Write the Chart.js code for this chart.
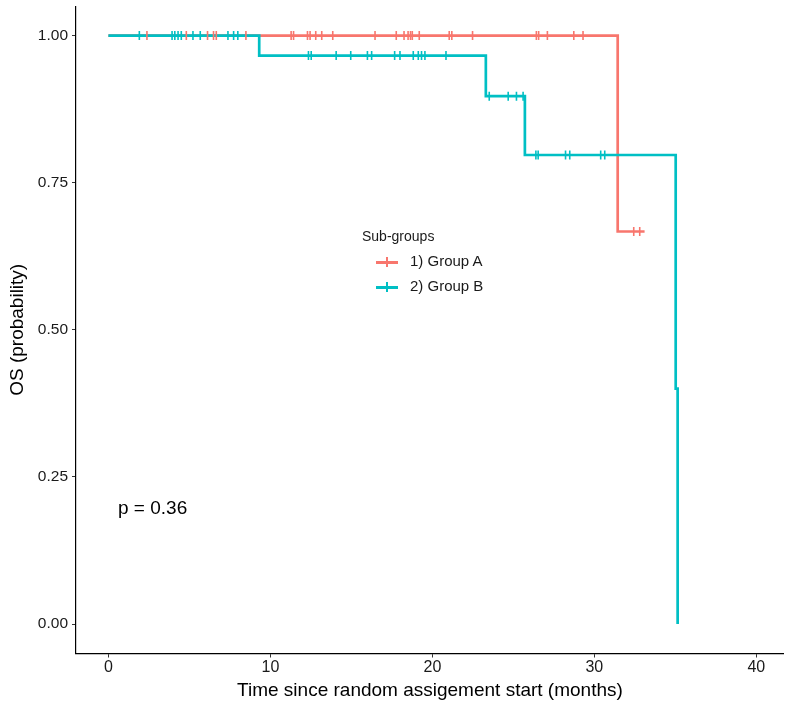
<!DOCTYPE html>
<html>
<head>
<meta charset="utf-8">
<script src="https://cdn.jsdelivr.net/npm/chart.js@4/dist/chart.umd.min.js"></script>
<style>
  html, body { margin: 0; padding: 0; background: #fff; }
  #wrap { position: relative; width: 790px; height: 705px; font-family: "Liberation Sans", Arial, sans-serif; }
  #chart { position: absolute; left: 0; top: 0; }
  .leg-title { position: absolute; left: 362px; top: 228px; font-size: 14px; color: #1a1a1a; }
  .leg-item { position: absolute; left: 376px; height: 20px; font-size: 15px; color: #1a1a1a; }
  .leg-sym { position: absolute; left: 0; top: 9px; width: 22px; height: 2.5px; }
  .leg-sym i { position: absolute; left: 10px; top: -4px; width: 2px; height: 10px; background: inherit; }
  .leg-lab { position: absolute; left: 34px; top: 0; white-space: nowrap; }
  .pval { position: absolute; left: 118px; top: 497px; font-size: 19px; color: #000; }
</style>
</head>
<body>
<div id="wrap">
  <canvas id="chart" width="790" height="705"></canvas>
  <div class="leg-title">Sub-groups</div>
  <div class="leg-item" style="top:252px"><div class="leg-sym" style="background:#F8766D"><i></i></div><span class="leg-lab">1) Group A</span></div>
  <div class="leg-item" style="top:277px"><div class="leg-sym" style="background:#00BFC4"><i></i></div><span class="leg-lab">2) Group B</span></div>
  <div class="pval">p = 0.36</div>
</div>
<script>
// Dados (tempo em meses)
const groupNames = ["1) Group A", "2) Group B"];
const colorA = "#F8766D";
const colorB = "#00BFC4";

// Curvas de Kaplan-Meier: tempos de evento e sobrevida após o evento
const timesA = [0, 31.44, 33.1];
const survA = [1, 0.667, 0.667];
const timesB = [0, 9.31, 23.3, 25.71, 35.02, 35.14];
const survB = [1, 0.966, 0.897, 0.797, 0.4, 0];

// Tempos censurados
const censorA = [2.38, 4.81, 6.12, 6.49, 6.66, 8.49, 11.28, 11.43, 12.29, 12.45, 12.8, 13.17, 13.85,
  16.46, 17.77, 18.25, 18.5, 18.65, 18.76, 19.19, 21.04, 21.2, 22.48, 26.42, 26.56, 27.1, 28.73, 29.3,
  32.43, 32.8];
const censorB = [1.91, 3.93, 4.1, 4.3, 4.5, 5.22, 5.67, 7.38, 7.73, 7.99, 12.35, 12.52, 14.06, 14.96,
  15.99, 16.25, 17.67, 18.0, 18.82, 19.13, 19.33, 19.54, 20.84, 23.51, 24.68, 25.19, 25.6,
  26.39, 26.53, 28.22, 28.48, 30.39, 30.64];

const xTicks = [0, 10, 20, 30, 40];
const yTicks = [0, 0.25, 0.5, 0.75, 1];

// valor da curva em degrau num instante t
function survAt(times, surv, t) {
  let s = surv[0];
  for (let i = 0; i < times.length; i++) {
    if (times[i] <= t) s = surv[i];
  }
  return s;
}

function curve(times, surv) {
  return times.map((t, i) => ({ x: t, y: surv[i] }));
}
function marks(censor, times, surv) {
  return censor.map((t) => ({ x: t, y: survAt(times, surv, t) }));
}

const fam = "'Liberation Sans', Arial, sans-serif";

const ctx = document.getElementById("chart").getContext("2d");
new Chart(ctx, {
  type: "scatter",
  data: {
    datasets: [
      {
        label: groupNames[0],
        data: curve(timesA, survA),
        showLine: true,
        stepped: "before",
        borderColor: colorA,
        borderWidth: 2.7,
        pointRadius: 0,
        order: 4,
      },
      {
        label: groupNames[1],
        data: curve(timesB, survB),
        showLine: true,
        stepped: "before",
        borderColor: colorB,
        borderWidth: 2.7,
        pointRadius: 0,
        order: 3,
      },
      {
        label: groupNames[0] + " censor",
        data: marks(censorA, timesA, survA),
        pointStyle: "line",
        rotation: 90,
        radius: 4.5,
        borderColor: colorA,
        borderWidth: 1.6,
        order: 2,
      },
      {
        label: groupNames[1] + " censor",
        data: marks(censorB, timesB, survB),
        pointStyle: "line",
        rotation: 90,
        radius: 4.5,
        borderColor: colorB,
        borderWidth: 1.6,
        order: 1,
      },
    ],
  },
  options: {
    responsive: false,
    animation: false,
    layout: { padding: { top: 4, right: 5, left: 0, bottom: 0 } },
    plugins: {
      legend: { display: false },
      tooltip: { enabled: false },
    },
    scales: {
      x: {
        type: "linear",
        min: -2,
        max: 41.7,
        afterBuildTicks: (axis) => {
          axis.ticks = xTicks.map((v) => ({ value: v }));
        },
        afterFit: (axis) => {
          axis.height = 51.5;
        },
        grid: { drawOnChartArea: false, drawTicks: true, tickLength: 4, color: "#333", tickWidth: 1 },
        border: { display: true, color: "#000", width: 1.2 },
        ticks: {
          font: { size: 16, family: fam },
          color: "#1a1a1a",
          padding: 0,
          maxRotation: 0,
          callback: (v) => String(v),
        },
        title: {
          display: true,
          text: "Time since random assigement start (months)",
          font: { size: 19, family: fam },
          color: "#000",
          padding: { top: 0, bottom: 3 },
        },
      },
      y: {
        type: "linear",
        min: -0.05,
        max: 1.05,
        afterBuildTicks: (axis) => {
          axis.ticks = yTicks.map((v) => ({ value: v }));
        },
        afterFit: (axis) => {
          axis.width = 76;
          axis.paddingTop = 0;
          axis.paddingBottom = 0;
        },
        grid: { drawOnChartArea: false, drawTicks: true, tickLength: 4, color: "#333", tickWidth: 1 },
        border: { display: true, color: "#000", width: 1.2 },
        ticks: {
          font: { size: 15.5, family: fam },
          color: "#1a1a1a",
          padding: 4,
          callback: (v) => Number(v).toFixed(2),
        },
        title: {
          display: true,
          text: "OS (probability)",
          font: { size: 19, family: fam },
          color: "#000",
          padding: { top: 6, bottom: 0 },
        },
      },
    },
  },
});
</script>
</body>
</html>
